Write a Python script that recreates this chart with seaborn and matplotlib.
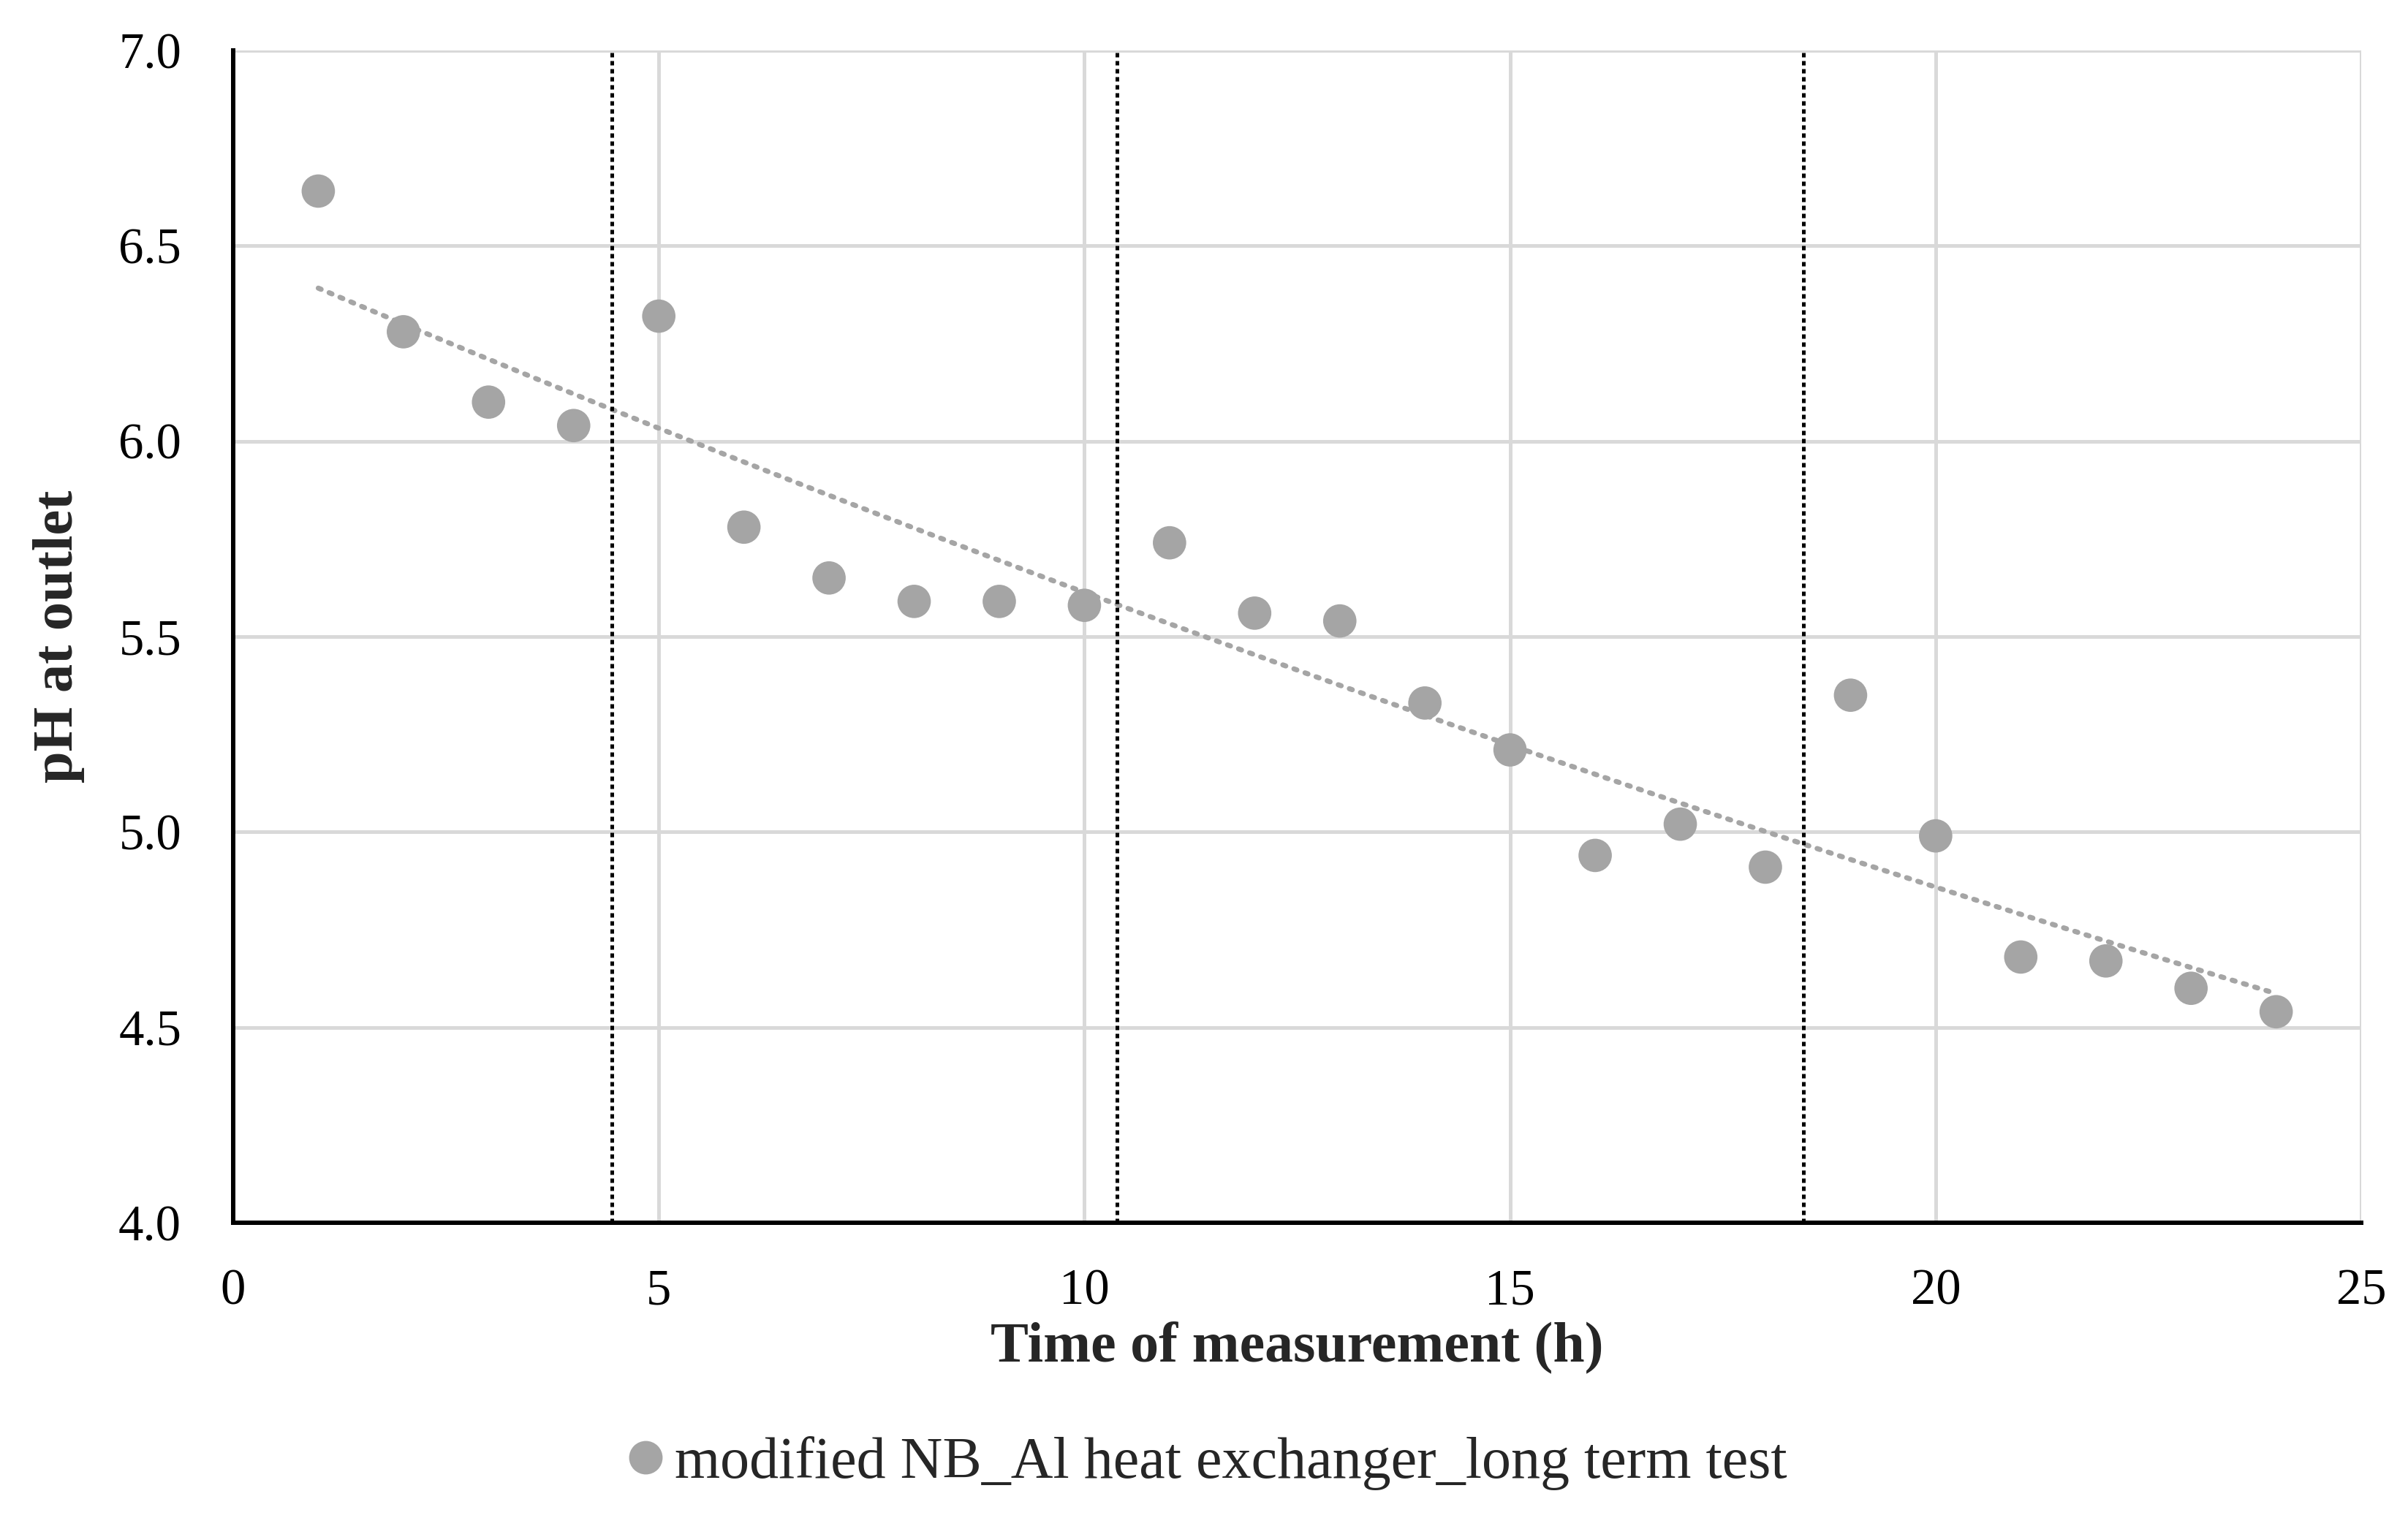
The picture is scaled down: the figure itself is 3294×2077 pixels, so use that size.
import numpy as np
import pandas as pd
import matplotlib
matplotlib.use('Agg')
import matplotlib.pyplot as plt
import seaborn as sns

# measurement times (h) and outlet pH
hours = [1, 2, 3, 4, 5, 6, 7, 8, 9, 10, 11, 12,
         13, 14, 15, 16, 17, 18, 19, 20, 21, 22, 23, 24]
ph = [6.64, 6.28, 6.10, 6.04, 6.32, 5.78, 5.65, 5.59, 5.59, 5.58, 5.74, 5.56,
      5.54, 5.33, 5.21, 4.94, 5.02, 4.91, 5.35, 4.99, 4.68, 4.67, 4.60, 4.54]
# vertical markers (h)
events = [4.45, 10.38, 18.45]

seriesName = 'modified NB_Al heat exchanger_long term test'

def px(v):
    return v * 72. / 300.

if __name__ == "__main__":

    d = pd.DataFrame({'time': hours, 'pH': ph, 'series': seriesName})

    sns.set_theme(style='white')
    plt.rcParams['font.family'] = ['Liberation Serif', 'DejaVu Serif']

    fig = plt.figure(figsize=(3295/300., 2077/300.), dpi=300)
    ax = fig.add_axes([0.0968, 0.1945, 0.9803-0.0968, 0.9668-0.1945])

    # Excel-style exponential trendline
    b, lna = np.polyfit(d.time, np.log(d.pH), 1)
    tx = np.linspace(min(hours), max(hours), 100)
    ax.plot(tx, np.exp(lna) * np.exp(b * tx), color='#A5A5A5',
            linestyle=(0, (0.6, 1.7)), linewidth=px(7), dash_capstyle='round', zorder=2)

    for e in events:
        ax.axvline(e, color='black', linestyle=(0, (1.2, 1.0)), linewidth=px(5), zorder=2)

    sns.scatterplot(x='time', y='pH', hue='series', data=d, palette=['#A5A5A5'],
                    s=120, edgecolor='none', linewidth=0, ax=ax, zorder=3, legend=False)

    ax.set_xlim(0, 25)
    ax.set_ylim(4.0, 7.0)
    ax.set_xticks(np.arange(0, 26, 5))
    ax.set_yticks(np.arange(4.0, 7.01, 0.5))
    ax.set_yticklabels(['{:.1f}'.format(v) for v in np.arange(4.0, 7.01, 0.5)])
    ax.grid(True, color='#D9D9D9', linewidth=px(5), zorder=0)
    ax.set_axisbelow(True)

    for s in ['top', 'right']:
        ax.spines[s].set_visible(False)
    for s in ['left', 'bottom']:
        ax.spines[s].set_color('black')
        ax.spines[s].set_linewidth(px(6))
        ax.spines[s].set_zorder(4)

    ax.tick_params(axis='both', length=0, labelsize=16.5, colors='black')
    ax.tick_params(axis='y', pad=17)
    ax.tick_params(axis='x', pad=15)

    ax.set_xlabel('Time of measurement (h)', fontsize=18.7, fontweight='bold', labelpad=2)
    ax.set_ylabel('pH at outlet', fontsize=18.8, fontweight='bold', labelpad=11)

    h = plt.Line2D([], [], marker='o', linestyle='none', color='#A5A5A5',
                   markersize=11, markeredgewidth=0)
    fig.legend([h], [seriesName], loc='center', bbox_to_anchor=(0.5, 0.036),
               frameon=False, fontsize=19.2, handletextpad=0.1, handlelength=0.8)

    plt.savefig('out.png', dpi=300)
    plt.close()
